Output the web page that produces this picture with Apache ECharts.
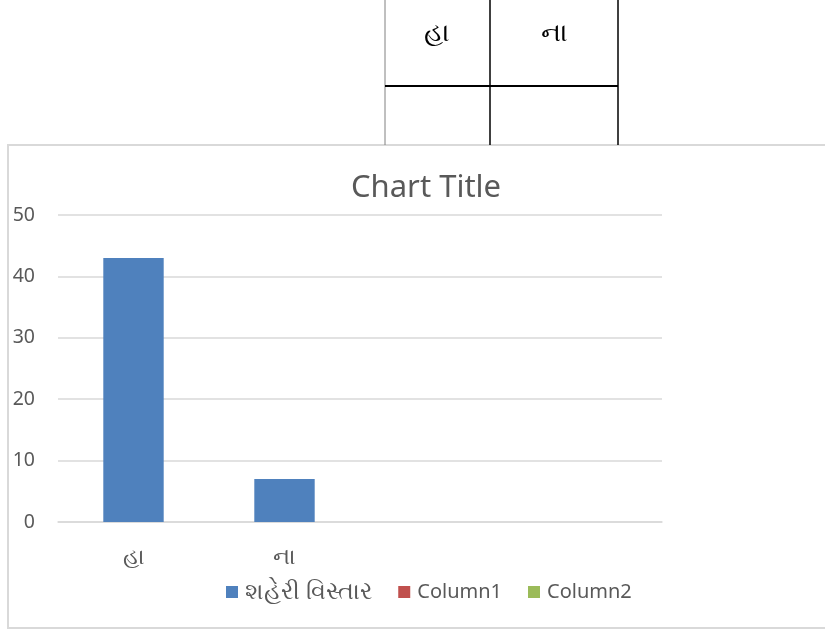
<!DOCTYPE html>
<html>
<head>
<meta charset="utf-8">
<script src="https://cdn.jsdelivr.net/npm/echarts@6/dist/echarts.min.js"></script>
<style>
  html, body { margin: 0; padding: 0; background: #fff; }
  #chart { width: 825px; height: 633px; }
</style>
</head>
<body>
<div id="chart"></div>
<script>
// 数据
const categories = ['હા', 'ના', '', '']
const seriesNames = ['શહેરી વિસ્તાર', 'Column1', 'Column2']
const urbanValues = [43, 7, null, null]
const column1Values = [null, null, null, null]
const column2Values = [null, null, null, null]
const yTicks = [0, 10, 20, 30, 40, 50]
const tableHeaders = ['હા', 'ના']

const font = '"Noto Sans", "Open Sans", sans-serif'
const textColor = '#595959'
const lineColor = '#d9d9d9'

const myChart = echarts.init(document.getElementById('chart'))

// 表格（上方）
const tableGraphics = [
    { type: 'line', shape: { x1: 385, y1: 0, x2: 385, y2: 145 }, style: { stroke: '#808080', lineWidth: 1 } },
    { type: 'line', shape: { x1: 490, y1: 0, x2: 490, y2: 145 }, style: { stroke: '#000', lineWidth: 1.5 } },
    { type: 'line', shape: { x1: 618, y1: 0, x2: 618, y2: 145 }, style: { stroke: '#000', lineWidth: 1.5 } },
    { type: 'line', shape: { x1: 385, y1: 86, x2: 618, y2: 86 }, style: { stroke: '#000', lineWidth: 2 } },
    {
        type: 'text', x: 437, y: 33,
        style: { text: tableHeaders[0], font: '500 27px ' + font, fill: '#000', align: 'center', verticalAlign: 'middle' }
    },
    {
        type: 'text', x: 554, y: 33,
        style: { text: tableHeaders[1], font: '500 27px ' + font, fill: '#000', align: 'center', verticalAlign: 'middle' }
    },
    // 图表外框
    {
        type: 'rect', shape: { x: 8, y: 145, width: 830, height: 483 },
        style: { fill: 'none', stroke: lineColor, lineWidth: 2 }, z: -1
    }
]

const option = {
    animation: false,
    title: {
        text: 'Chart Title',
        left: 421,
        top: 168,
        textAlign: 'center',
        textStyle: { color: textColor, fontSize: 31, fontWeight: 'normal', fontFamily: font }
    },
    legend: {
        data: seriesNames,
        left: 221,
        top: 575,
        itemWidth: 12,
        itemHeight: 12,
        itemGap: 26,
        icon: 'rect',
        formatter: function (name) {
            return name === seriesNames[0] ? '{g|' + name + '}' : '{c|' + name + '}'
        },
        textStyle: {
            color: textColor, fontFamily: font, padding: [0, 0, 0, 2],
            rich: {
                g: { fontSize: 24, color: textColor, fontFamily: font },
                c: { fontSize: 20, color: textColor, fontFamily: font }
            }
        }
    },
    grid: { left: 58, right: 163, top: 215, bottom: 111, containLabel: false },
    xAxis: {
        type: 'category',
        data: categories,
        axisLine: { lineStyle: { color: lineColor, width: 1.5 } },
        axisTick: { show: false },
        axisLabel: { color: textColor, fontSize: 23, fontFamily: font, margin: 24 }
    },
    yAxis: {
        type: 'value',
        min: yTicks[0],
        max: yTicks[yTicks.length - 1],
        interval: 10,
        axisLine: { show: false },
        axisTick: { show: false },
        splitLine: { lineStyle: { color: lineColor, width: 1.5 } },
        axisLabel: { color: textColor, fontSize: 19.5, fontFamily: font, margin: 23 }
    },
    series: [
        { name: seriesNames[0], type: 'bar', data: urbanValues, barWidth: '40%', barGap: '0%', itemStyle: { color: '#4f81bd' } },
        { name: seriesNames[1], type: 'bar', data: column1Values, itemStyle: { color: '#c0504d' } },
        { name: seriesNames[2], type: 'bar', data: column2Values, itemStyle: { color: '#9bbb59' } }
    ],
    graphic: tableGraphics
}

myChart.setOption(option)
</script>
</body>
</html>
